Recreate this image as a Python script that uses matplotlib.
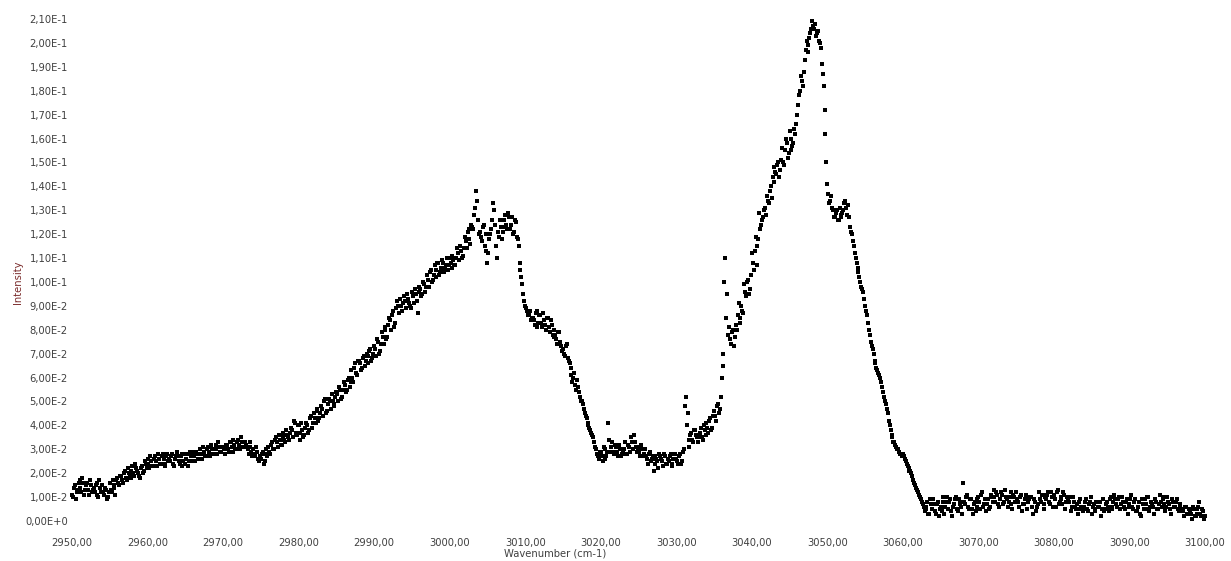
import numpy as np
import matplotlib
matplotlib.use("Agg")
import matplotlib.pyplot as plt
from matplotlib.ticker import FuncFormatter, MultipleLocator

# two interleaved scans, 0.25 cm-1 steps; scan B is offset by 0.125 cm-1
# intensities in units of 1e-3
wn_start = 2950.0
wn_step = 0.25

scan_a_milli = [
    11, 14, 9, 13, 17, 12, 16, 13, 16, 11, 15, 13, 12, 16, 10, 14,
    15, 11, 13, 10, 16, 12, 14, 11, 18, 15, 19, 16, 21, 17, 20, 18,
    23, 19, 22, 20, 18, 23, 21, 24,
    26, 22, 25, 23, 27, 23, 26, 24, 28, 24, 27, 25, 25, 28, 23, 27,
    27, 24, 28, 25, 24, 28, 25, 27, 29, 25, 28, 26, 30, 26, 29, 27,
    31, 27, 30, 28, 32, 28, 31, 29,
    31, 28, 32, 29, 33, 29, 32, 30, 34, 30, 33, 31, 32, 30, 33, 29,
    30, 27, 29, 25, 26, 29, 25, 28, 31, 28, 33, 30, 35, 31, 34, 32,
    37, 33, 36, 34, 39, 35, 41, 36,
    40, 34, 38, 36, 41, 37, 43, 39, 45, 41, 47, 43, 48, 44, 51, 46,
    51, 47, 50, 48, 54, 50, 55, 52, 58, 54, 59, 56, 63, 58, 66, 61,
    67, 63, 68, 65, 70, 66, 72, 68,
    73, 69, 75, 71, 79, 74, 81, 77, 85, 80, 88, 83, 92, 87, 90, 88,
    94, 89, 93, 90, 96, 91, 95, 87, 98, 94, 100, 96, 103, 98, 105, 101,
    107, 102, 108, 104, 109, 104, 107, 105,
    110, 106, 109, 107, 114, 109, 113, 111, 119, 114, 122, 116, 123, 128, 138, 126,
    121, 117, 124, 113, 108, 118, 122, 133, 124, 110, 119, 123, 121, 126, 124, 129,
    122, 127, 121, 125, 118, 108, 102, 95,
    90, 88, 86, 84, 85, 82, 88, 83, 86, 81, 84, 80, 85, 79, 82, 77,
    78, 74, 79, 73, 72, 69, 74, 67, 64, 58, 62, 55, 56, 52, 50, 47,
    44, 41, 39, 37, 35, 31, 28, 26,
    29, 25, 30, 27, 41, 29, 33, 28, 31, 27, 30, 28, 29, 33, 28, 31,
    35, 30, 33, 29, 31, 27, 30, 28, 27, 24, 29, 26, 21, 27, 25, 28,
    26, 23, 27, 24, 25, 28, 23, 26,
    26, 24, 28, 25, 30, 52, 45, 34, 37, 33, 38, 35, 35, 39, 34, 38,
    41, 37, 43, 39, 46, 42, 49, 47, 60, 70, 110, 95, 81, 74, 80, 77,
    80, 91, 85, 88, 99, 94, 101, 97,
    112, 105, 119, 115, 129, 124, 127, 131, 136, 133, 140, 144, 148, 145, 150, 147,
    156, 149, 160, 152, 163, 155, 158, 162, 170, 178, 186, 182, 193, 201, 196, 204,
    209, 206, 203, 205, 200, 191, 182, 162,
    141, 133, 136, 130, 127, 130, 126, 128, 129, 133, 131, 132, 123, 120, 115, 110,
    106, 102, 98, 96, 90, 86, 80, 75, 72, 67, 64, 62, 60, 56, 52, 49,
    45, 40, 36, 33, 32, 30, 29, 28,
    28, 26, 24, 22, 21, 19, 16, 14, 12, 10, 8, 6, 5, 8, 3, 7,
    9, 4, 7, 2, 6, 10, 3, 8, 5, 9, 2, 7, 10, 4, 8, 6,
    16, 7, 11, 5, 9, 3, 8, 6,
    10, 5, 12, 7, 4, 9, 6, 10, 13, 8, 11, 6, 12, 7, 13, 9,
    8, 12, 5, 10, 12, 8, 10, 4, 7, 11, 5, 9, 10, 3, 8, 6,
    12, 8, 11, 5, 9, 12, 7, 10,
    11, 6, 13, 8, 9, 12, 5, 10, 8, 4, 10, 6, 7, 3, 9, 5,
    6, 9, 4, 8, 3, 7, 5, 8, 6, 2, 9, 5, 8, 4, 10, 6,
    11, 7, 9, 5, 10, 6, 8, 3,
    7, 11, 5, 9, 4, 8, 2, 7, 9, 5, 10, 6, 7, 3, 8, 5,
    11, 6, 9, 4, 10, 7, 3, 8, 6, 9, 4, 7, 5, 2, 6, 3,
    4, 1, 5, 2, 3, 8, 2, 4,
    2,
]

scan_b_milli = [
    10, 15, 12, 16, 14, 18, 11, 15, 13, 17, 12, 14, 15, 11, 17, 12,
    12, 14, 9, 12, 13, 17, 15, 17, 16, 19, 17, 20, 18, 22, 19, 21,
    20, 24, 21, 19, 22, 20, 25, 22,
    24, 27, 23, 26, 25, 28, 24, 27, 26, 23, 28, 26, 27, 24, 26, 29,
    25, 27, 23, 28, 26, 23, 29, 25, 27, 29, 26, 28, 28, 31, 27, 30,
    29, 32, 28, 30, 30, 33, 29, 31,
    30, 32, 30, 33, 31, 34, 30, 33, 32, 35, 31, 33, 31, 28, 31, 27,
    28, 31, 26, 27, 28, 24, 30, 27, 29, 32, 30, 34, 33, 36, 32, 35,
    34, 38, 35, 37, 38, 42, 37, 40,
    37, 41, 35, 39, 40, 38, 44, 41, 43, 46, 42, 45, 47, 50, 45, 49,
    50, 53, 49, 52, 53, 56, 51, 55, 57, 55, 60, 58, 60, 64, 62, 67,
    66, 64, 69, 67, 69, 71, 67, 70,
    72, 76, 70, 74, 77, 80, 76, 82, 84, 86, 81, 89, 90, 93, 88, 91,
    92, 95, 91, 89, 94, 97, 92, 96, 97, 95, 99, 98, 101, 104, 100, 103,
    105, 108, 103, 106, 108, 106, 110, 107,
    108, 111, 107, 110, 112, 115, 110, 114, 117, 121, 118, 124, 122, 131, 134, 120,
    119, 123, 115, 120, 112, 120, 126, 130, 115, 121, 126, 118, 123, 128, 122, 127,
    124, 120, 126, 119, 115, 105, 99, 92,
    89, 86, 88, 85, 84, 87, 81, 86, 83, 87, 82, 85, 81, 84, 78, 80,
    76, 79, 75, 71, 70, 73, 68, 66, 61, 60, 57, 59, 54, 50, 49, 45,
    43, 40, 38, 36, 33, 30, 27, 29,
    27, 31, 26, 29, 34, 31, 29, 32, 29, 32, 27, 30, 30, 28, 32, 29,
    33, 36, 31, 30, 29, 32, 27, 30, 26, 28, 25, 27, 24, 26, 22, 27,
    25, 28, 24, 26, 27, 24, 26, 28,
    25, 27, 24, 29, 48, 40, 31, 36, 34, 38, 36, 33, 37, 35, 40, 36,
    39, 42, 38, 44, 44, 48, 45, 52, 65, 100, 85, 78, 76, 79, 73, 82,
    86, 83, 90, 87, 96, 100, 95, 103,
    108, 113, 107, 118, 122, 126, 130, 128, 134, 138, 135, 142, 146, 149, 144, 151,
    150, 155, 158, 154, 160, 157, 164, 166, 174, 180, 184, 188, 197, 199, 202, 206,
    207, 208, 204, 201, 198, 187, 172, 150,
    137, 134, 131, 127, 129, 126, 131, 127, 130, 134, 128, 127, 121, 117, 112, 108,
    104, 100, 97, 93, 88, 83, 78, 73, 70, 66, 63, 61, 58, 54, 50, 47,
    42, 38, 35, 33, 31, 30, 28, 27,
    27, 25, 23, 21, 20, 17, 15, 13, 11, 9, 7, 4, 6, 3, 9, 5,
    7, 3, 8, 5, 4, 8, 6, 10, 8, 4, 6, 9, 5, 9, 7, 3,
    8, 10, 6, 9, 5, 7, 4, 9,
    8, 11, 6, 9, 7, 5, 11, 8, 10, 12, 7, 9, 11, 8, 10, 6,
    10, 7, 11, 8, 9, 6, 11, 7, 9, 5, 8, 10, 6, 9, 4, 7,
    9, 11, 7, 10, 11, 8, 12, 6,
    9, 12, 7, 10, 7, 11, 8, 9, 10, 6, 8, 5, 5, 8, 6, 4,
    8, 5, 7, 10, 6, 4, 8, 6, 8, 5, 4, 7, 6, 9, 5, 8,
    9, 6, 10, 7, 8, 5, 9, 6,
    9, 6, 8, 4, 6, 3, 9, 5, 7, 10, 4, 8, 6, 9, 5, 7,
    8, 10, 7, 6, 8, 5, 9, 6, 8, 5, 6, 4, 4, 6, 3, 5,
    3, 6, 2, 5, 6, 3, 5, 1,
]

scan_a = np.array(scan_a_milli) * 1e-3
scan_b = np.array(scan_b_milli) * 1e-3
wn_a = wn_start + wn_step * np.arange(len(scan_a))
wn_b = wn_start + wn_step / 2 + wn_step * np.arange(len(scan_b))

xticks = [2950, 2960, 2970, 2980, 2990, 3000, 3010, 3020, 3030, 3040,
          3050, 3060, 3070, 3080, 3090, 3100]

label_color = "#404040"


def sci_comma(v, pos):
    if abs(v) < 1e-12:
        return "0,00E+0"
    exp = int(np.floor(np.log10(abs(v)) + 1e-9))
    mant = v / 10 ** exp
    return ("%.2f" % mant).replace(".", ",") + "E%d" % exp


fig = plt.figure(figsize=(12.31, 5.61), dpi=100)
ax = fig.add_axes([72 / 1231, 1 - 521 / 561, (1205 - 72) / 1231, (521 - 19) / 561])

for wn, val in ((wn_a, scan_a), (wn_b, scan_b)):
    ax.plot(wn, val, linestyle="none", marker="s", ms=2.4,
            color="black", mew=0, clip_on=False)

ax.set_xlim(2950, 3100)
ax.set_ylim(0, 0.21)
ax.set_xticks(xticks)
ax.xaxis.set_major_formatter(FuncFormatter(lambda v, p: ("%.2f" % v).replace(".", ",")))
ax.yaxis.set_major_locator(MultipleLocator(0.01))
ax.yaxis.set_major_formatter(FuncFormatter(sci_comma))

for s in ax.spines.values():
    s.set_visible(False)
ax.tick_params(axis="both", length=0, labelsize=7.2, labelcolor=label_color)
ax.tick_params(axis="y", pad=3)
ax.tick_params(axis="x", pad=12)

fig.text(555 / 1231, 1 - 553 / 561, "Wavenumber (cm-1)", ha="center", va="center",
         fontsize=7.2, color=label_color)
fig.text(18 / 1231, 1 - 282 / 561, "Intensity", ha="center", va="center",
         rotation=90, fontsize=7.2, color="#7b2c2c")

fig.savefig("out.png", dpi=100, facecolor="white")
